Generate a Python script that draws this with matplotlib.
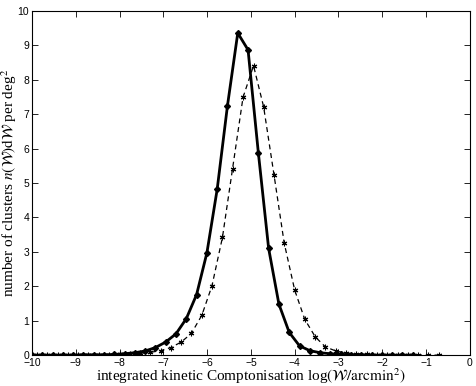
import matplotlib
matplotlib.use('Agg')
import matplotlib.pyplot as plt

# solid curve (filled markers)
x_solid = [-10.0, -9.765, -9.53, -9.295, -9.06, -8.825, -8.59, -8.355, -8.12, -7.885,
           -7.65, -7.415, -7.18, -6.945, -6.71, -6.475, -6.24, -6.005, -5.77, -5.535,
           -5.30, -5.065, -4.83, -4.595, -4.36, -4.125, -3.89, -3.655, -3.42, -3.185,
           -2.95, -2.715, -2.48, -2.245, -2.01, -1.775, -1.54, -1.305]
y_solid = [0.0, 0.0, 0.0, 0.0, 0.0, 0.01, 0.01, 0.01, 0.02, 0.04,
           0.07, 0.12, 0.22, 0.38, 0.62, 1.06, 1.76, 2.97, 4.82, 7.25,
           9.36, 8.87, 5.88, 3.10, 1.48, 0.66, 0.27, 0.13, 0.07, 0.04,
           0.02, 0.01, 0.01, 0.0, 0.0, 0.0, 0.0, 0.0]

# dashed curve (asterisk markers)
x_dash = [-9.88, -9.65, -9.41, -9.18, -8.94, -8.71, -8.47, -8.24, -8.00, -7.77,
          -7.53, -7.30, -7.06, -6.83, -6.59, -6.36, -6.12, -5.89, -5.65, -5.42,
          -5.18, -4.94, -4.71, -4.47, -4.24, -4.00, -3.77, -3.53, -3.30, -3.06,
          -2.83, -2.59, -2.36, -2.12, -1.89, -1.65, -1.42, -1.18, -0.95, -0.71]
y_dash = [0.0, 0.0, 0.0, 0.0, 0.0, 0.0, 0.01, 0.01, 0.02, 0.03,
          0.05, 0.08, 0.13, 0.22, 0.38, 0.63, 1.16, 2.01, 3.42, 5.41,
          7.49, 8.41, 7.22, 5.22, 3.26, 1.89, 1.04, 0.53, 0.24, 0.12,
          0.06, 0.04, 0.02, 0.01, 0.01, 0.0, 0.0, 0.0, 0.0, 0.0]

x_ticks = list(range(-10, 1))
y_ticks = list(range(0, 11))

plt.rcParams['mathtext.fontset'] = 'stix'
plt.rcParams['font.family'] = ['Liberation Sans', 'DejaVu Sans']

fig = plt.figure(figsize=(4.77, 3.86), dpi=100)
ax = fig.add_axes([0.067, 0.080, 0.918, 0.8915])

asterisk = (6, 2, 0)
ax.plot(x_dash, y_dash, '--', color='black', lw=0.9, marker=asterisk,
        markersize=4, markeredgewidth=0.8, dashes=(4, 3))
ax.plot(x_solid, y_solid, '-', color='black', lw=2.0, marker='D',
        markersize=3)

ax.set_xlim(-10, 0)
ax.set_ylim(0, 10)
ax.set_xticks(x_ticks)
ax.set_yticks(y_ticks)
ax.set_xticklabels([str(t).replace('-', '\u2212') for t in x_ticks])
ax.tick_params(direction='in', top=True, right=True, labelsize=7.5,
               length=4, width=0.6)
ax.tick_params(axis='x', pad=2)
ax.tick_params(axis='y', pad=2)
for s in ax.spines.values():
    s.set_linewidth(0.8)

ax.set_xlabel(r'integrated kinetic Comptonisation log$\left(\mathcal{W}/\mathrm{arcmin}^2\right)$',
              family='Liberation Serif', fontsize=11, labelpad=-1)
ax.set_ylabel(r'number of clusters $n(\mathcal{W})\mathrm{d}\mathcal{W}$ per deg$^2$',
              family='Liberation Serif', fontsize=11, labelpad=-1)

fig.savefig('out.png', dpi=100)
